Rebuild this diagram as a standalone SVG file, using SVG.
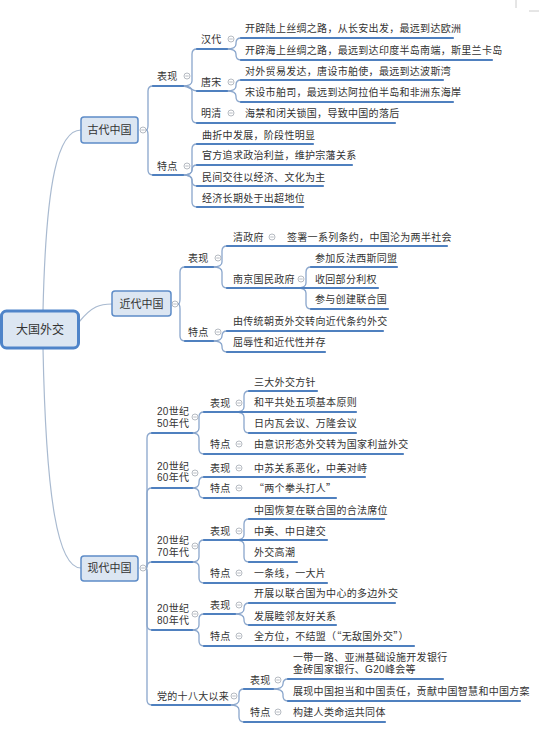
<svg xmlns="http://www.w3.org/2000/svg" xmlns:xlink="http://www.w3.org/1999/xlink" width="556" height="730" viewBox="0 0 556 730">
<style>
.t{font-family:"Liberation Sans","Noto Sans CJK SC",sans-serif;font-size:10px;fill:#333;letter-spacing:0.3px}
.q{font-family:"Noto Sans CJK SC",sans-serif}
.n{font-family:"Liberation Sans","Noto Sans CJK SC",sans-serif;font-size:11px;fill:#333;text-anchor:middle}
.r{font-family:"Liberation Sans","Noto Sans CJK SC",sans-serif;font-size:12px;fill:#333;text-anchor:middle}
.box{fill:#dce6f2;stroke:#5d8cc8;stroke-width:1.5}
.root{fill:#dce6f2;stroke:#4f84c9;stroke-width:3}
.ul{stroke:#4f80bf;stroke-width:2.2;fill:none;stroke-linecap:round}
.cn{stroke:#8aa6cc;stroke-width:1.3;fill:none}
.rc{stroke:#a9bad0;stroke-width:1.2;fill:none}
.mk{stroke:#ccc;stroke-width:1}
</style>
<defs>
<g id="btn"><circle r="3" fill="#fff" stroke="#a3a9b3" stroke-width="0.8"/><line x1="-1.7" y1="0" x2="1.7" y2="0" stroke="#a3a9b3" stroke-width="0.8"/></g>
</defs>
<rect width="556" height="730" fill="#fff"/>
<line class="mk" x1="516" y1="0" x2="516" y2="8"/>
<line class="mk" x1="529" y1="11" x2="539" y2="11"/>

<g id="connectors">
<path class="rc" d="M43,311 C46,180 58,130 81,130"/>
<path class="rc" d="M79,322 C92,306 100,304 112,304"/>
<path class="rc" d="M43,348 C46,500 58,568 81,568"/>
<path class="cn" d="M146,130 Q148,130 148,125 L148,91 Q148,86 153,86"/>
<path class="cn" d="M146,130 Q148,130 148,135 L148,170 Q148,175 153,175"/>
<path class="cn" d="M183,86 Q192,86 192,81 L192,54 Q192,49 197,49"/>
<path class="cn" d="M183,86 C190,86 191,91 197,91"/>
<path class="cn" d="M183,86 Q192,86 192,91 L192,118 Q192,123 197,123"/>
<path class="cn" d="M227,49 Q236,49 236,44 L236,43 Q236,38 241,38"/>
<path class="cn" d="M227,49 Q236,49 236,54 L236,55 Q236,60 241,60"/>
<path class="cn" d="M227,91 Q236,91 236,86 L236,85 Q236,80 241,80"/>
<path class="cn" d="M227,91 Q236,91 236,96 L236,97 Q236,102 241,102"/>
<path class="cn" d="M183,175 Q192,175 192,170 L192,149 Q192,144 197,144"/>
<path class="cn" d="M183,175 Q192,175 192,170 Q192,165 197,165"/>
<path class="cn" d="M183,175 Q192,175 192,180 L192,181 Q192,186 197,186"/>
<path class="cn" d="M183,175 Q192,175 192,180 L192,202 Q192,207 197,207"/>
<path class="cn" d="M178,304 Q180,304 180,299 L180,272 Q180,267 185,267"/>
<path class="cn" d="M178,304 Q180,304 180,309 L180,336 Q180,341 185,341"/>
<path class="cn" d="M213,267 Q222,267 222,262 L222,251 Q222,246 227,246"/>
<path class="cn" d="M213,267 Q222,267 222,272 L222,283 Q222,288 227,288"/>
<path class="cn" d="M297,288 Q306,288 306,283 L306,272 Q306,267 311,267"/>
<path class="cn" d="M297,288 Q306,288 306,293 L306,304 Q306,309 311,309"/>
<path class="cn" d="M213,341 Q222,341 222,336 Q222,331 227,331"/>
<path class="cn" d="M213,341 Q222,341 222,346 L222,347 Q222,352 227,352"/>
<path class="cn" d="M146,568 Q147,568 147,563 L147,438 Q147,433 152,433"/>
<path class="cn" d="M146,568 Q147,568 147,563 L147,493 Q147,488 152,488"/>
<path class="cn" d="M146,568 Q147,568 147,567 Q147,562 152,562"/>
<path class="cn" d="M146,568 Q147,568 147,573 L147,625 Q147,630 152,630"/>
<path class="cn" d="M146,568 Q147,568 147,573 L147,700 Q147,705 152,705"/>
<path class="cn" d="M192,433 Q199,433 199,428 L199,417 Q199,412 204,412"/>
<path class="cn" d="M192,433 Q199,433 199,438 L199,449 Q199,454 204,454"/>
<path class="cn" d="M235,412 Q244,412 244,407 L244,396 Q244,391 249,391"/>
<path class="cn" d="M235,412 Q244,412 244,417 L244,428 Q244,433 249,433"/>
<path class="cn" d="M192,488 Q199,488 199,483 L199,482 Q199,477 204,477"/>
<path class="cn" d="M192,488 Q199,488 199,493 Q199,498 204,498"/>
<path class="cn" d="M192,562 Q199,562 199,557 L199,545 Q199,540 204,540"/>
<path class="cn" d="M192,562 Q199,562 199,567 L199,578 Q199,583 204,583"/>
<path class="cn" d="M235,540 Q244,540 244,535 L244,524 Q244,519 249,519"/>
<path class="cn" d="M235,540 Q244,540 244,545 L244,557 Q244,562 249,562"/>
<path class="cn" d="M192,630 Q199,630 199,625 L199,619 Q199,614 204,614"/>
<path class="cn" d="M192,630 Q199,630 199,635 L199,641 Q199,646 204,646"/>
<path class="cn" d="M235,614 Q244,614 244,609 L244,608 Q244,603 249,603"/>
<path class="cn" d="M235,614 Q244,614 244,619 L244,620 Q244,625 249,625"/>
<path class="cn" d="M230,705 Q239,705 239,700 L239,694 Q239,689 244,689"/>
<path class="cn" d="M230,705 Q239,705 239,710 L239,717 Q239,722 244,722"/>
<path class="cn" d="M273,689 Q283,689 283,684 Q283,679 288,679"/>
<path class="cn" d="M273,689 Q283,689 283,694 L283,696 Q283,701 288,701"/>
</g>

<g id="root"><rect class="root" x="1.5" y="311" width="77" height="37" rx="5"/><text class="r" x="40" y="334">大国外交</text></g>

<g id="gudai"><rect class="box" x="81" y="117" width="57" height="26" rx="3"/><text class="n" x="109.5" y="134">古代中国</text><use xlink:href="#btn" x="143" y="130"/></g>
<g id="gd-bx"><line class="ul" x1="153" y1="86" x2="183" y2="86"/><text class="t" x="157" y="79.5">表现</text><use xlink:href="#btn" x="187" y="76"/></g>
<g id="gd-hd"><line class="ul" x1="197" y1="49" x2="227" y2="49"/><text class="t" x="201" y="42.5">汉代</text><use xlink:href="#btn" x="231" y="39"/></g>
<g id="gd-hd1"><line class="ul" x1="241" y1="38" x2="453" y2="38"/><text class="t" x="245" y="31.5">开辟陆上丝绸之路，从长安出发，最远到达欧洲</text></g>
<g id="gd-hd2"><line class="ul" x1="241" y1="60" x2="492" y2="60"/><text class="t" x="245" y="53.5">开辟海上丝绸之路，最远到达印度半岛南端，斯里兰卡岛</text></g>
<g id="gd-ts"><line class="ul" x1="197" y1="91" x2="227" y2="91"/><text class="t" x="201" y="85.5">唐宋</text><use xlink:href="#btn" x="231" y="82"/></g>
<g id="gd-ts1"><line class="ul" x1="241" y1="80" x2="443" y2="80"/><text class="t" x="245" y="74.5">对外贸易发达，唐设市舶使，最远到达波斯湾</text></g>
<g id="gd-ts2"><line class="ul" x1="241" y1="102" x2="453" y2="102"/><text class="t" x="245" y="95.5">宋设市舶司，最远到达阿拉伯半岛和非洲东海岸</text></g>
<g id="gd-mq"><line class="ul" x1="197" y1="123" x2="235" y2="123"/><text class="t" x="201" y="116.5">明清</text><use xlink:href="#btn" x="231" y="113"/></g>
<g id="gd-mq1"><line class="ul" x1="235" y1="123" x2="395" y2="123"/><text class="t" x="245" y="116.5">海禁和闭关锁国，导致中国的落后</text></g>
<g id="gd-td"><line class="ul" x1="153" y1="175" x2="183" y2="175"/><text class="t" x="157" y="169.5">特点</text><use xlink:href="#btn" x="187" y="166"/></g>
<g id="gd-td1"><line class="ul" x1="197" y1="144" x2="313" y2="144"/><text class="t" x="202" y="138.5">曲折中发展，阶段性明显</text></g>
<g id="gd-td2"><line class="ul" x1="197" y1="165" x2="352" y2="165"/><text class="t" x="202" y="158.5">官方追求政治利益，维护宗藩关系</text></g>
<g id="gd-td3"><line class="ul" x1="197" y1="186" x2="323" y2="186"/><text class="t" x="202" y="180.5">民间交往以经济、文化为主</text></g>
<g id="gd-td4"><line class="ul" x1="197" y1="207" x2="303" y2="207"/><text class="t" x="202" y="201.5">经济长期处于出超地位</text></g>

<g id="jindai"><rect class="box" x="112" y="291" width="59" height="25" rx="3"/><text class="n" x="141.5" y="308">近代中国</text><use xlink:href="#btn" x="175" y="304"/></g>
<g id="jd-bx"><line class="ul" x1="185" y1="267" x2="213" y2="267"/><text class="t" x="188" y="261.5">表现</text><use xlink:href="#btn" x="218" y="258"/></g>
<g id="jd-qzf"><line class="ul" x1="227" y1="246" x2="280" y2="246"/><text class="t" x="233" y="240.5">清政府</text><use xlink:href="#btn" x="272" y="237"/></g>
<g id="jd-qzf1"><line class="ul" x1="280" y1="246" x2="447" y2="246"/><text class="t" x="287" y="240.5">签署一系列条约，中国沦为两半社会</text></g>
<g id="jd-nj"><line class="ul" x1="227" y1="288" x2="297" y2="288"/><text class="t" x="233" y="282.5">南京国民政府</text><use xlink:href="#btn" x="301" y="279"/></g>
<g id="jd-nj1"><line class="ul" x1="311" y1="267" x2="397" y2="267"/><text class="t" x="315" y="261.5">参加反法西斯同盟</text></g>
<g id="jd-nj2"><line class="ul" x1="297" y1="288" x2="378" y2="288"/><text class="t" x="315" y="282.5">收回部分利权</text></g>
<g id="jd-nj3"><line class="ul" x1="311" y1="309" x2="388" y2="309"/><text class="t" x="315" y="302.5">参与创建联合国</text></g>
<g id="jd-td"><line class="ul" x1="185" y1="341" x2="213" y2="341"/><text class="t" x="188" y="335.5">特点</text><use xlink:href="#btn" x="218" y="332"/></g>
<g id="jd-td1"><line class="ul" x1="227" y1="331" x2="383" y2="331"/><text class="t" x="233" y="324.5">由传统朝贡外交转向近代条约外交</text></g>
<g id="jd-td2"><line class="ul" x1="227" y1="352" x2="325" y2="352"/><text class="t" x="233" y="345.5">屈辱性和近代性并存</text></g>

<g id="xiandai"><rect class="box" x="81" y="556" width="57" height="25" rx="3"/><text class="n" x="109.5" y="572">现代中国</text><use xlink:href="#btn" x="143" y="568"/></g>
<g id="xd-50"><line class="ul" x1="152" y1="433" x2="192" y2="433"/><text class="t" x="157" y="414.5"><tspan x="157">20世纪</tspan><tspan x="157" dy="12">50年代</tspan></text><use xlink:href="#btn" x="195" y="417"/></g>
<g id="xd-50-bx"><line class="ul" x1="204" y1="412" x2="235" y2="412"/><text class="t" x="210" y="406.5">表现</text><use xlink:href="#btn" x="239" y="403"/></g>
<g id="xd-50-b1"><line class="ul" x1="249" y1="391" x2="317" y2="391"/><text class="t" x="254" y="385.5">三大外交方针</text></g>
<g id="xd-50-b2"><line class="ul" x1="235" y1="412" x2="356" y2="412"/><text class="t" x="254" y="405.5">和平共处五项基本原则</text></g>
<g id="xd-50-b3"><line class="ul" x1="249" y1="433" x2="356" y2="433"/><text class="t" x="254" y="426.5">日内瓦会议、万隆会议</text></g>
<g id="xd-50-td"><line class="ul" x1="204" y1="454" x2="244" y2="454"/><text class="t" x="210" y="447.5">特点</text><use xlink:href="#btn" x="239" y="444"/></g>
<g id="xd-50-t1"><line class="ul" x1="244" y1="454" x2="403" y2="454"/><text class="t" x="254" y="447.5">由意识形态外交转为国家利益外交</text></g>

<g id="xd-60"><line class="ul" x1="152" y1="488" x2="192" y2="488"/><text class="t" x="157" y="469.5"><tspan x="157">20世纪</tspan><tspan x="157" dy="11">60年代</tspan></text><use xlink:href="#btn" x="195" y="473"/></g>
<g id="xd-60-bx"><line class="ul" x1="204" y1="477" x2="244" y2="477"/><text class="t" x="210" y="471.5">表现</text><use xlink:href="#btn" x="239" y="468"/></g>
<g id="xd-60-b1"><line class="ul" x1="244" y1="477" x2="365" y2="477"/><text class="t" x="254" y="471.5">中苏关系恶化，中美对峙</text></g>
<g id="xd-60-td"><line class="ul" x1="204" y1="498" x2="244" y2="498"/><text class="t" x="210" y="491.5">特点</text><use xlink:href="#btn" x="239" y="488"/></g>
<g id="xd-60-t1"><line class="ul" x1="244" y1="498" x2="336" y2="498"/><text class="t q" x="254" y="491.5">“两个拳头打人”</text></g>

<g id="xd-70"><line class="ul" x1="152" y1="562" x2="192" y2="562"/><text class="t" x="157" y="543.5"><tspan x="157">20世纪</tspan><tspan x="157" dy="12">70年代</tspan></text><use xlink:href="#btn" x="195" y="546"/></g>
<g id="xd-70-bx"><line class="ul" x1="204" y1="540" x2="235" y2="540"/><text class="t" x="210" y="534.5">表现</text><use xlink:href="#btn" x="239" y="531"/></g>
<g id="xd-70-b1"><line class="ul" x1="249" y1="519" x2="384" y2="519"/><text class="t" x="254" y="513.5">中国恢复在联合国的合法席位</text></g>
<g id="xd-70-b2"><line class="ul" x1="235" y1="540" x2="327" y2="540"/><text class="t" x="254" y="534.5">中美、中日建交</text></g>
<g id="xd-70-b3"><line class="ul" x1="249" y1="562" x2="297" y2="562"/><text class="t" x="254" y="555.5">外交高潮</text></g>
<g id="xd-70-td"><line class="ul" x1="204" y1="583" x2="244" y2="583"/><text class="t" x="210" y="576.5">特点</text><use xlink:href="#btn" x="239" y="573"/></g>
<g id="xd-70-t1"><line class="ul" x1="244" y1="583" x2="327" y2="583"/><text class="t" x="254" y="576.5">一条线，一大片</text></g>

<g id="xd-80"><line class="ul" x1="152" y1="630" x2="192" y2="630"/><text class="t" x="157" y="611.5"><tspan x="157">20世纪</tspan><tspan x="157" dy="12">80年代</tspan></text><use xlink:href="#btn" x="195" y="614"/></g>
<g id="xd-80-bx"><line class="ul" x1="204" y1="614" x2="235" y2="614"/><text class="t" x="210" y="608.5">表现</text><use xlink:href="#btn" x="239" y="605"/></g>
<g id="xd-80-b1"><line class="ul" x1="249" y1="603" x2="395" y2="603"/><text class="t" x="254" y="596.5">开展以联合国为中心的多边外交</text></g>
<g id="xd-80-b2"><line class="ul" x1="249" y1="625" x2="336" y2="625"/><text class="t" x="254" y="619.5">发展睦邻友好关系</text></g>
<g id="xd-80-td"><line class="ul" x1="204" y1="646" x2="244" y2="646"/><text class="t" x="210" y="639.5">特点</text><use xlink:href="#btn" x="239" y="636"/></g>
<g id="xd-80-t1"><line class="ul" x1="244" y1="646" x2="414" y2="646"/><text class="t q" x="254" y="639.5">全方位，不结盟（“无敌国外交”）</text></g>

<g id="xd-18"><line class="ul" x1="152" y1="705" x2="230" y2="705"/><text class="t" x="157" y="699.5">党的十八大以来</text><use xlink:href="#btn" x="234" y="696"/></g>
<g id="xd-18-bx"><line class="ul" x1="244" y1="689" x2="273" y2="689"/><text class="t" x="250" y="683.5">表现</text><use xlink:href="#btn" x="278" y="680"/></g>
<g id="xd-18-b1"><line class="ul" x1="288" y1="679" x2="443" y2="679"/><text class="t" x="293" y="660.5"><tspan x="293">一带一路、亚洲基础设施开发银行</tspan><tspan x="293" dy="12">金砖国家银行、G20峰会等</tspan></text></g>
<g id="xd-18-b2"><line class="ul" x1="288" y1="701" x2="520" y2="701"/><text class="t" x="293" y="694.5">展现中国担当和中国责任，贡献中国智慧和中国方案</text></g>
<g id="xd-18-td"><line class="ul" x1="244" y1="722" x2="283" y2="722"/><text class="t" x="250" y="715.5">特点</text><use xlink:href="#btn" x="278" y="712"/></g>
<g id="xd-18-t1"><line class="ul" x1="283" y1="722" x2="385" y2="722"/><text class="t" x="293" y="715.5">构建人类命运共同体</text></g>
</svg>
